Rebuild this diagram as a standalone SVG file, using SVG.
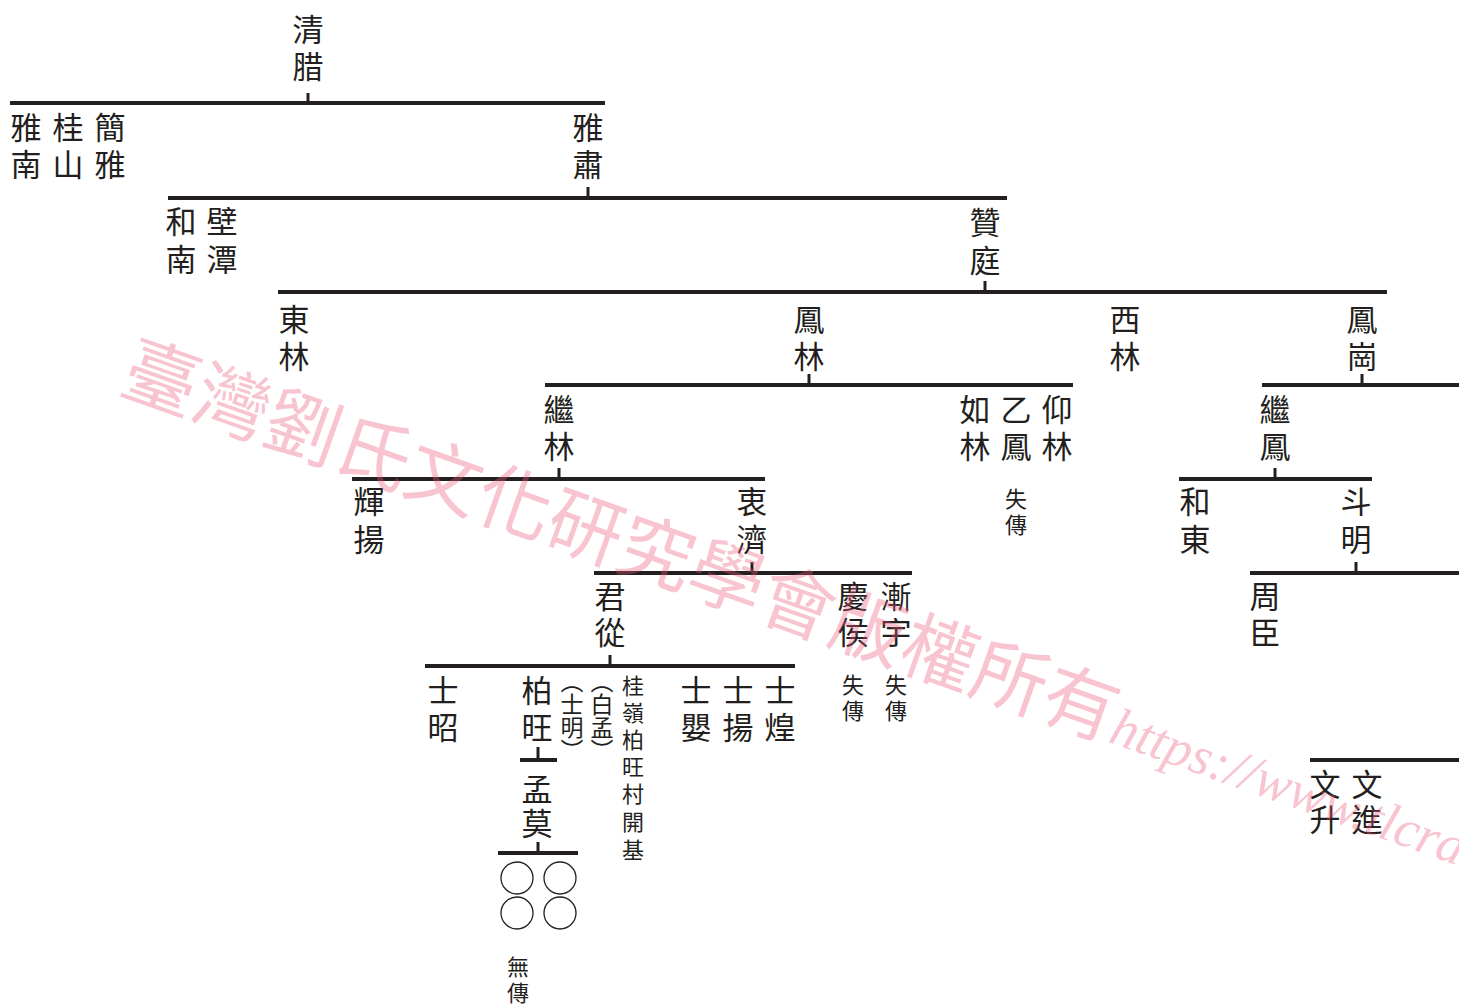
<svg xmlns="http://www.w3.org/2000/svg" width="1459" height="1007" viewBox="0 0 1459 1007">
<style>
.n{font-family:"Noto Sans CJK TC","Noto Sans CJK SC",sans-serif;font-size:31px;fill:#231f20;text-anchor:middle;dominant-baseline:central}
.s{font-family:"Noto Sans CJK TC","Noto Sans CJK SC",sans-serif;font-size:22px;fill:#231f20;text-anchor:middle;dominant-baseline:central}
.v{font-family:"Noto Sans CJK TC","Noto Sans CJK SC",sans-serif;font-size:23px;fill:#231f20;writing-mode:vertical-rl;text-anchor:start}
.ln{stroke:#231f20;stroke-width:4;fill:none}
.st{stroke:#231f20;stroke-width:3;fill:none}
.c{stroke:#231f20;stroke-width:1.3;fill:none}
.wm{font-family:"Noto Sans CJK TC","Noto Sans CJK SC",sans-serif;font-size:75px;fill:#eb5779;fill-opacity:0.35}
.wl{font-family:"Liberation Serif",serif;font-style:italic;font-size:54px}
</style>
<rect width="1459" height="1007" fill="#ffffff"/>
<g id="connectors">
<path class="st" d="M308 93V103"/><path class="ln" d="M10 103H605"/>
<path class="st" d="M588 187V198"/><path class="ln" d="M168 198H1007"/>
<path class="st" d="M985 281V292"/><path class="ln" d="M278 292H1387"/>
<path class="st" d="M809 374V385"/><path class="ln" d="M545 385H1073"/>
<path class="st" d="M1362 374V385"/><path class="ln" d="M1262 385H1459"/>
<path class="st" d="M559 468V479"/><path class="ln" d="M352 479H765"/>
<path class="st" d="M1275 468V479"/><path class="ln" d="M1179 479H1372"/>
<path class="st" d="M752 562V573"/><path class="ln" d="M594 573H912"/>
<path class="st" d="M1356 562V573"/><path class="ln" d="M1250 573H1459"/>
<path class="st" d="M610 655V666"/><path class="ln" d="M425 666H795"/>
<path class="st" d="M538 747V760"/><path class="ln" d="M520 760H557"/>
<path class="st" d="M538 842V853"/><path class="ln" d="M498 853H578"/>
<path class="ln" d="M1310 760H1459"/>
</g>
<g id="nodes" transform="translate(0 -3)">
<g id="n-qingla"><text class="n" x="308" y="30">清</text><text class="n" x="308" y="67">腊</text></g>
<g id="n-jianya"><text class="n" x="110" y="128">簡</text><text class="n" x="110" y="165">雅</text></g>
<g id="n-guishan"><text class="n" x="68" y="128">桂</text><text class="n" x="68" y="165">山</text></g>
<g id="n-yanan"><text class="n" x="26" y="128">雅</text><text class="n" x="26" y="165">南</text></g>
<g id="n-yasu"><text class="n" x="588" y="128">雅</text><text class="n" x="588" y="165">肅</text></g>
<g id="n-henan"><text class="n" x="181" y="222">和</text><text class="n" x="181" y="260">南</text></g>
<g id="n-bitan"><text class="n" x="222" y="222">壁</text><text class="n" x="222" y="260">潭</text></g>
<g id="n-zanting"><text class="n" x="985" y="223">贊</text><text class="n" x="985" y="261">庭</text></g>
<g id="n-donglin"><text class="n" x="294" y="320">東</text><text class="n" x="294" y="357">林</text></g>
<g id="n-fenglin"><text class="n" x="809" y="320">鳳</text><text class="n" x="809" y="357">林</text></g>
<g id="n-xilin"><text class="n" x="1125" y="320">西</text><text class="n" x="1125" y="357">林</text></g>
<g id="n-fenggang"><text class="n" x="1362" y="320">鳳</text><text class="n" x="1362" y="357">崗</text></g>
<g id="n-jilin"><text class="n" x="559" y="410">繼</text><text class="n" x="559" y="447">林</text></g>
<g id="n-rulin"><text class="n" x="975" y="410">如</text><text class="n" x="975" y="447">林</text></g>
<g id="n-yifeng"><text class="n" x="1016" y="410">乙</text><text class="n" x="1016" y="447">鳳</text><text class="s" x="1016" y="500">失</text><text class="s" x="1016" y="526">傳</text></g>
<g id="n-yanglin"><text class="n" x="1057" y="410">仰</text><text class="n" x="1057" y="447">林</text></g>
<g id="n-jifeng"><text class="n" x="1275" y="410">繼</text><text class="n" x="1275" y="447">鳳</text></g>
<g id="n-huiyang"><text class="n" x="369" y="502">輝</text><text class="n" x="369" y="540">揚</text></g>
<g id="n-zhongji"><text class="n" x="752" y="502">衷</text><text class="n" x="752" y="540">濟</text></g>
<g id="n-hedong"><text class="n" x="1195" y="502">和</text><text class="n" x="1195" y="540">東</text></g>
<g id="n-douming"><text class="n" x="1356" y="502">斗</text><text class="n" x="1356" y="540">明</text></g>
<g id="n-juncong"><text class="n" x="610" y="597">君</text><text class="n" x="610" y="633">從</text></g>
<g id="n-qinghou"><text class="n" x="853" y="597">慶</text><text class="n" x="853" y="633">侯</text><text class="s" x="853" y="686">失</text><text class="s" x="853" y="712">傳</text></g>
<g id="n-jianyu"><text class="n" x="896" y="597">漸</text><text class="n" x="896" y="633">宇</text><text class="s" x="896" y="686">失</text><text class="s" x="896" y="712">傳</text></g>
<g id="n-zhouchen"><text class="n" x="1265" y="597">周</text><text class="n" x="1265" y="633">臣</text></g>
<g id="n-shizhao"><text class="n" x="443" y="691">士</text><text class="n" x="443" y="728">昭</text></g>
<g id="n-baiwang"><text class="n" x="537" y="691">柏</text><text class="n" x="537" y="728">旺</text>
<text class="v" x="572" y="673">（士明）</text>
<text class="v" x="602" y="673">（白孟）</text>
<text class="s" x="633" y="687">桂</text><text class="s" x="633" y="714">嶺</text><text class="s" x="633" y="741">柏</text><text class="s" x="633" y="768">旺</text><text class="s" x="633" y="795">村</text><text class="s" x="633" y="823">開</text><text class="s" x="633" y="851">基</text></g>
<g id="n-shiying"><text class="n" x="696" y="691">士</text><text class="n" x="696" y="728">嬰</text></g>
<g id="n-shiyang"><text class="n" x="738" y="691">士</text><text class="n" x="738" y="728">揚</text></g>
<g id="n-shihuang"><text class="n" x="780" y="691">士</text><text class="n" x="780" y="728">煌</text></g>
<g id="n-mengmo"><text class="n" x="537" y="790">孟</text><text class="n" x="537" y="824">莫</text></g>
<g id="n-unknown"><text class="s" x="518" y="968">無</text><text class="s" x="518" y="994">傳</text></g>
<g id="n-wensheng"><text class="n" x="1325" y="785">文</text><text class="n" x="1325" y="820">升</text></g>
<g id="n-wenjin"><text class="n" x="1367" y="785">文</text><text class="n" x="1367" y="820">進</text></g>
</g>
<g id="n-circles"><circle class="c" cx="517" cy="878" r="16"/><circle class="c" cx="560" cy="878" r="16"/><circle class="c" cx="517" cy="913" r="16"/><circle class="c" cx="560" cy="913" r="16"/></g>
<g id="watermark" transform="translate(162 377) rotate(19.5)"><text class="wm" x="-37.5" y="28">臺灣劉氏文化研究學會版權所有<tspan class="wl">https://www.tlcra</tspan></text></g>
</svg>
